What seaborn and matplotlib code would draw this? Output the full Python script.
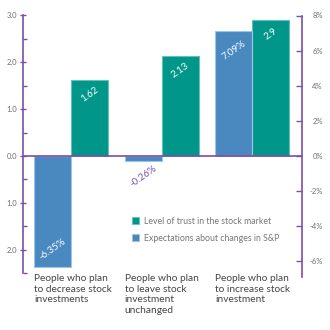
import matplotlib
matplotlib.use("Agg")
import matplotlib.pyplot as plt
import matplotlib.transforms as mtransforms
from matplotlib.patches import Patch
from matplotlib.ticker import FixedLocator, FixedFormatter
import pandas as pd
import seaborn as sns

# ---- data ----
groups = [
    "People who plan\nto decrease stock\ninvestments",
    "People who plan\nto leave stock\ninvestment\nunchanged",
    "People who plan\nto increase stock\ninvestment",
]
trust = [1.62, 2.13, 2.9]            # left axis (index level)
expect_pct = [-6.35, -0.26, 7.09]    # right axis (percent)
trust_labels = ["1.62", "2.13", "2.9"]
expect_labels = ["-6.35%", "-0.26%", "7.09%"]
trust_name = "Level of trust in the stock market"
expect_name = "Expectations about changes in S&P"

left_ticks = [3, 2, 1, 0, -1, -2]
left_tick_labels = ["3.0", "2.0", "1.0", "0.0", "1.0", "2.0"]
left_minor = [2.5, 1.5, 0.5, -0.5, -1.5, -2.5]
right_ticks = [8, 6, 4, 2, 0, -2, -4, -6]
right_tick_labels = ["8%", "6%", "4%", "2%", "0%", "-2%", "-4%", "-6%"]

# ---- style ----
TEAL = "#00968a"
BLUE = "#4a89c0"
TEAL_EDGE = "#63c2b8"
BLUE_EDGE = "#9ec4e4"
PURPLE = "#7b4ea8"
GREY = "#6e6e6e"
TEXT = "#444444"

sns.set_theme(style="white")
plt.rcParams["font.family"] = ["Lato", "DejaVu Sans"]

fig = plt.figure(figsize=(3.3, 3.3), dpi=100)
ax = fig.add_axes([23 / 330, 1 - 277.7 / 330, (301.7 - 23) / 330, (277.7 - 15.5) / 330])

df = pd.DataFrame({
    "group": groups * 2,
    "series": [trust_name] * 3 + [expect_name] * 3,
    "value": trust + expect_pct,
})
hue_order = [expect_name, trust_name]
palette = {expect_name: BLUE, trust_name: TEAL}
bar_width = 0.816

sns.barplot(data=df[df.series == trust_name], x="group", y="value", hue="series",
            hue_order=hue_order, order=groups, palette=palette, width=bar_width,
            dodge=True, saturation=1, edgecolor=TEAL_EDGE, linewidth=0.8,
            legend=False, ax=ax)

ax2 = ax.twinx()
sns.barplot(data=df[df.series == expect_name], x="group", y="value", hue="series",
            hue_order=hue_order, order=groups, palette=palette, width=bar_width,
            dodge=True, saturation=1, edgecolor=BLUE_EDGE, linewidth=0.8,
            legend=False, ax=ax2)

# scales share zero: 3.0 on the left matches 8% on the right
lo, hi = -2.6, 3.0
ratio = 8 / 3
ax.set_ylim(lo, hi)
ax2.set_ylim(lo * ratio, hi * ratio)
ax.set_xlim(-0.529, 2.543)

for a in (ax, ax2):
    a.set_xlabel("")
    a.set_ylabel("")
    a.tick_params(axis="x", bottom=False, labelbottom=False)
    for s in a.spines.values():
        s.set_visible(False)

ax.spines["left"].set_visible(True)
ax.spines["left"].set_color(PURPLE)
ax.spines["left"].set_linewidth(1.2)
ax.spines["left"].set_bounds(-2.5, 3.0)
ax2.spines["right"].set_visible(True)
ax2.spines["right"].set_color(PURPLE)
ax2.spines["right"].set_linewidth(1.2)
ax2.spines["right"].set_bounds(-6.9, 8.0)

ax.yaxis.set_major_locator(FixedLocator(left_ticks))
ax.yaxis.set_major_formatter(FixedFormatter(left_tick_labels))
ax.yaxis.set_minor_locator(FixedLocator(left_minor))
ax.tick_params(axis="y", which="major", direction="inout", length=5, width=1,
               color=PURPLE, labelsize=5.5, labelcolor=GREY, pad=1.5, left=True)
ax.tick_params(axis="y", which="minor", direction="in", length=3, width=1,
               color=PURPLE, left=True)

ax2.yaxis.set_major_locator(FixedLocator(right_ticks))
ax2.yaxis.set_major_formatter(FixedFormatter(right_tick_labels))
ax2.tick_params(axis="y", which="major", direction="in", length=4, width=1,
                color=PURPLE, labelsize=5.5, labelcolor=GREY, pad=15.3, right=True)
for lab in ax2.get_yticklabels():
    lab.set_horizontalalignment("right")

# zero line
ax2.axhline(0, color=PURPLE, lw=1.2, zorder=5)

# value labels
half = bar_width / 4
for i, (v, t) in enumerate(zip(trust, trust_labels)):
    ax.text(i + half, v - 0.3, t, rotation=35, ha="center", va="center",
            color="white", fontsize=7, zorder=6)
for i, (v, t) in enumerate(zip(expect_pct, expect_labels)):
    if v > 0:
        y, c = v - 1.09, "white"
    elif v < -1:
        y, c = v + 1.03, "white"
    else:
        y, c = v - 0.9, PURPLE
    ax2.text(i - half, y, t, rotation=35, ha="center", va="center",
             color=c, fontsize=7, zorder=6)

# category labels under each group
trans = mtransforms.blended_transform_factory(ax.transData, fig.transFigure)
for i, g in enumerate(groups):
    fig.text(i - bar_width / 2, 1 - 274 / 330, g, transform=trans, ha="left",
             va="top", fontsize=7.3, color=TEXT, linespacing=1.25)

handles = [Patch(facecolor=TEAL, edgecolor=TEAL_EDGE, linewidth=0.6),
           Patch(facecolor=BLUE, edgecolor=BLUE_EDGE, linewidth=0.6)]
fig.legend(handles, [trust_name, expect_name], loc="upper left",
           bbox_to_anchor=(131.5 / 330, 1 - 216.5 / 330), frameon=False,
           fontsize=6.3, handlelength=0.9, handleheight=0.9, handletextpad=0.5,
           labelspacing=0.95, borderpad=0, borderaxespad=0, labelcolor="#777777")

fig.savefig("out.png", dpi=100, facecolor="white")
